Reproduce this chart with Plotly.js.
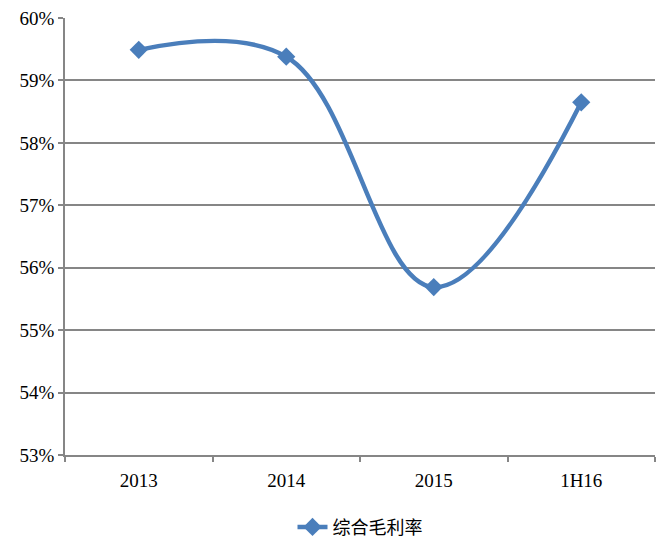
<!DOCTYPE html>
<html>
<head>
<meta charset="utf-8">
<script src="https://cdn.plot.ly/plotly-3.0.1.min.js"></script>
<style>html,body{margin:0;padding:0;background:#fff;}#chart{width:657px;height:538px;}</style>
</head>
<body>
<div id="chart"></div>
<script>
const categories = ["2013", "2014", "2015", "1H16"];
const grossMargin = [0.5949, 0.5938, 0.5569, 0.5865];
const seriesName = "综合毛利率";
const yTickVals = [0.53, 0.54, 0.55, 0.56, 0.57, 0.58, 0.59, 0.60];

const trace = {
  x: categories,
  y: grossMargin,
  name: seriesName,
  type: "scatter",
  mode: "lines+markers",
  line: {color: "#4A7EBB", width: 4.5, shape: "spline", smoothing: 1.1},
  marker: {symbol: "diamond", size: 14, color: "#4A7EBB", line: {color: "#4A7EBB", width: 0}}
};

const layout = {
  width: 657, height: 538,
  margin: {l: 65, r: 2, t: 18, b: 83},
  paper_bgcolor: "#fff", plot_bgcolor: "#fff",
  font: {family: "Liberation Serif, serif", size: 19, color: "#000"},
  xaxis: {
    type: "category", range: [-0.5, 3.5],
    tickson: "boundaries", ticks: "outside", ticklen: 5, tickcolor: "#868686", tickwidth: 1.5,
    showline: true, linecolor: "#868686", linewidth: 1.5, showgrid: false,
    mirror: false, zeroline: false, automargin: false, ticklabelstandoff: 7,
    tickfont: {family: "Liberation Serif, serif", size: 19, color: "#000"}
  },
  yaxis: {
    range: [0.53, 0.60], tickvals: yTickVals, tickformat: ".0%",
    ticks: "outside", ticklen: 5, tickcolor: "#868686", tickwidth: 1.5,
    showline: true, linecolor: "#868686", linewidth: 1.5, automargin: false,
    showgrid: true, gridcolor: "#868686", gridwidth: 1.5, zeroline: false,
    tickfont: {family: "Liberation Serif, serif", size: 19, color: "#000"}
  },
  showlegend: true,
  legend: {
    orientation: "h", x: 0.5, xanchor: "center",
    yref: "container", y: 0.02, yanchor: "middle",
    font: {family: "Noto Sans CJK SC, sans-serif", size: 18, color: "#000"}
  }
};

Plotly.newPlot("chart", [trace], layout, {displayModeBar: false});
</script>
</body>
</html>
